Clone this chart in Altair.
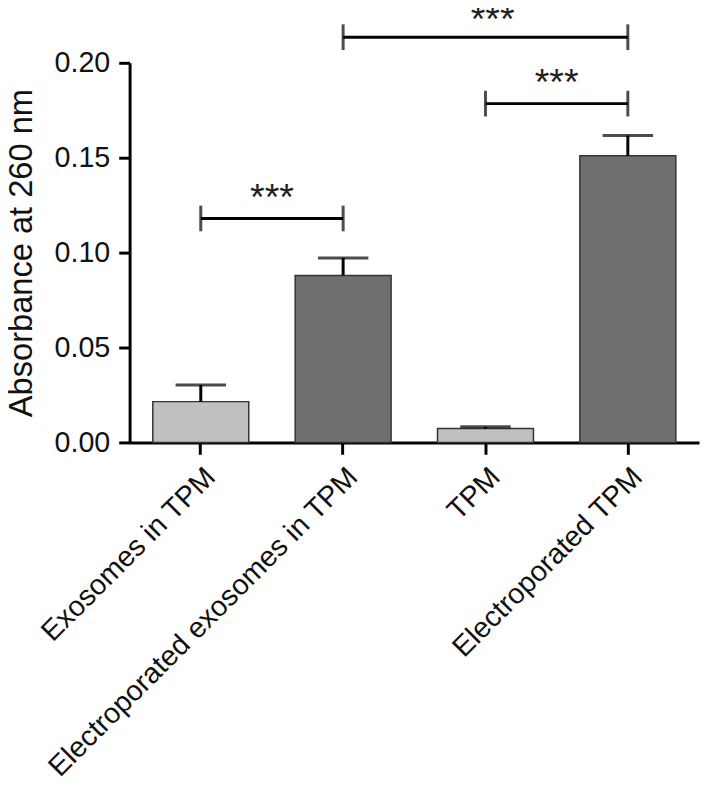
import altair as alt
import pandas as pd

categories = ["Exosomes in TPM", "Electroporated exosomes in TPM", "TPM", "Electroporated TPM"]
means = [0.0215, 0.088, 0.0073, 0.151]
errors = [0.0087, 0.0092, 0.0010, 0.0107]
bar_colors = ["#c0c0c0", "#707070", "#c0c0c0", "#707070"]

# significance brackets: start category, end category, height, label
br_start = ["Exosomes in TPM", "TPM", "Electroporated exosomes in TPM"]
br_end = ["Electroporated exosomes in TPM", "Electroporated TPM", "Electroporated TPM"]
br_level = [0.118, 0.1785, 0.2135]
br_label = ["***", "***", "***"]
br_mid = [1.0, 3.0, 2.55]  # position in units of category steps
star_level = [0.118, 0.1785, 0.2117]

df = pd.DataFrame({"cat": categories, "mean": means, "err": errors, "color": bar_colors})
df["upper"] = df["mean"] + df["err"]

br = pd.DataFrame({"a": br_start, "b": br_end, "lvl": br_level, "lab": br_label,
                   "mid": br_mid, "slvl": star_level})
br_ends = pd.concat([
    pd.DataFrame({"cat": br_start, "lvl": br_level}),
    pd.DataFrame({"cat": br_end, "lvl": br_level}),
])

FONT = "Liberation Sans"

xscale = alt.Scale(domain=categories, paddingInner=0.326, paddingOuter=0.163)
x = alt.X("cat:N", scale=xscale, title=None,
          axis=alt.Axis(labelAngle=-45, labelFontSize=29, labelFont=FONT, labelColor="#111",
                        labelAlign="right", labelBaseline="top", labelPadding=8,
                        tickSize=12, tickWidth=3, tickColor="black",
                        domainWidth=3, domainColor="black", labelLimit=1000))
yscale = alt.Scale(domain=[0, 0.2], nice=False)
y = alt.Y("mean:Q", scale=yscale, title="Absorbance at 260 nm",
          axis=alt.Axis(values=[0, 0.05, 0.10, 0.15, 0.20], format=".2f",
                        labelFontSize=29, labelFont=FONT, labelColor="#111", labelPadding=9,
                        tickSize=11, tickWidth=3, tickColor="black",
                        domainWidth=3, domainColor="black",
                        titleFontSize=33, titleFont=FONT, titleFontWeight="normal",
                        titleColor="#111", titlePadding=16, grid=False))

base = alt.Chart(df)
bars = base.mark_bar(stroke="#333", strokeWidth=1.5).encode(
    x=x, y=y, fill=alt.Fill("color:N", scale=None))
stem = base.mark_rule(strokeWidth=3, color="black").encode(
    x=alt.X("cat:N", scale=xscale), y=alt.Y("mean:Q", scale=yscale), y2="upper:Q")
cap = base.mark_tick(orient="horizontal", size=51, thickness=3, color="black").encode(
    x=alt.X("cat:N", scale=xscale), y=alt.Y("upper:Q", scale=yscale))

hline = alt.Chart(br).mark_rule(strokeWidth=3, color="black").encode(
    x=alt.X("a:N", scale=xscale), x2="b:N", y=alt.Y("lvl:Q", scale=yscale))
vticks = alt.Chart(br_ends).mark_tick(orient="vertical", size=26, thickness=3, color="black").encode(
    x=alt.X("cat:N", scale=xscale), y=alt.Y("lvl:Q", scale=yscale))

stars = alt.Chart(br).mark_text(fontSize=38, font=FONT, color="#222", baseline="alphabetic", dy=-9).encode(
    x=alt.X("mid:Q", scale=alt.Scale(domain=[0, 4], nice=False, zero=False), axis=None),
    y=alt.Y("slvl:Q", scale=yscale),
    text="lab:N")

bands = alt.layer(bars, stem, cap, hline, vticks)
chart = alt.layer(bands, stars).resolve_scale(x="independent").properties(
    width=576, height=384,
    autosize=alt.AutoSizeParams(type="none"),
    padding={"left": 123, "top": 51, "right": 1, "bottom": 335},
).configure_view(stroke=None).configure_axis(grid=False)

chart.save("out.html", embed_options={"renderer": "svg", "actions": False})
